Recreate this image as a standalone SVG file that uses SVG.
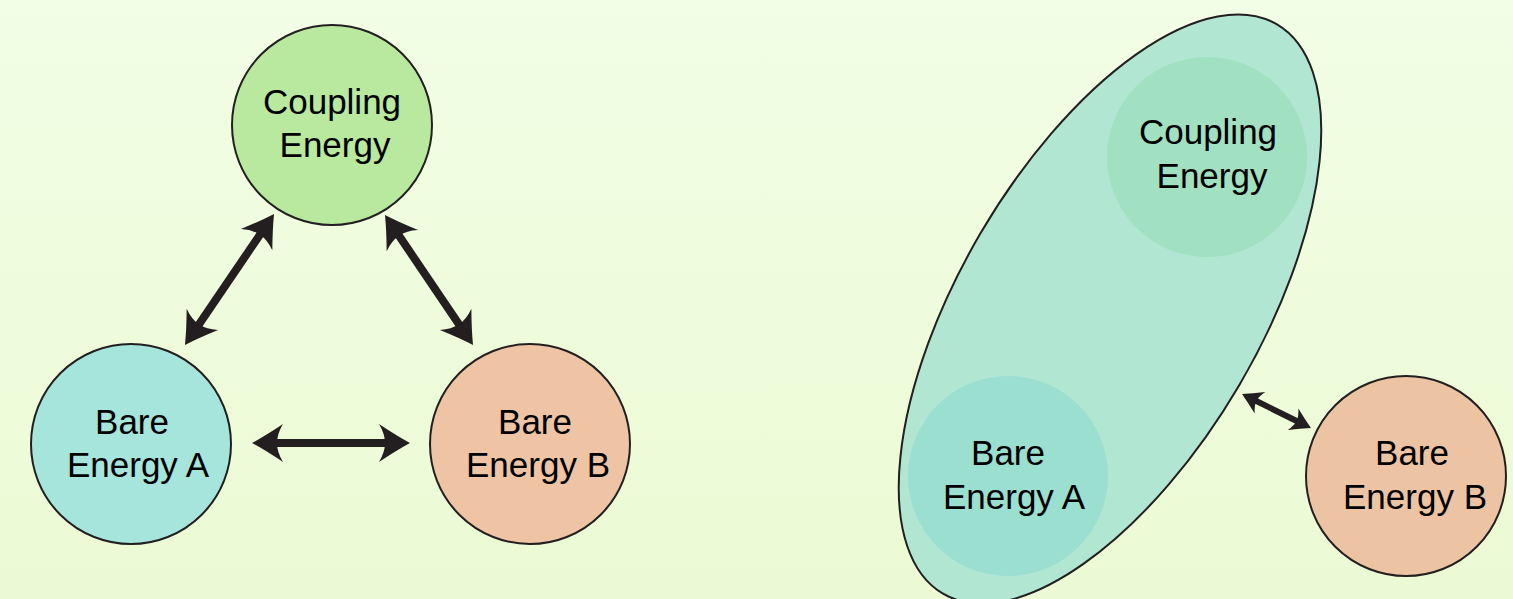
<svg xmlns="http://www.w3.org/2000/svg" width="1513" height="599" viewBox="0 0 1513 599">
  <defs>
    <linearGradient id="bg" x1="0" y1="0" x2="0" y2="1">
      <stop offset="0" stop-color="#f2fee5"/>
      <stop offset="1" stop-color="#ebfad4"/>
    </linearGradient>
    <!-- concave "stealth" arrowheads; tip sits ahead of the shaft end -->
    <marker id="headL" markerUnits="userSpaceOnUse" orient="auto-start-reverse" refX="-20" refY="0" markerWidth="40" markerHeight="40" overflow="visible">
      <path d="M0,0 Q-13,-7 -31,-19 Q-25,-9 -25,0 Q-25,9 -31,19 Q-13,7 0,0 Z" fill="#231f20"/>
    </marker>
    <marker id="headS" markerUnits="userSpaceOnUse" orient="auto-start-reverse" refX="-12" refY="0" markerWidth="30" markerHeight="30" overflow="visible">
      <path d="M0,0 Q-9,-5 -20,-12 Q-16,-5 -16,0 Q-16,5 -20,12 Q-9,5 0,0 Z" fill="#231f20"/>
    </marker>
  </defs>
  <style>
    .node { stroke: #231f20; stroke-width: 2; }
    .label { font-family: "Liberation Sans", Arial, sans-serif; font-size: 35px; fill: #000; text-anchor: middle; }
    .big { stroke: #231f20; stroke-width: 8; fill: none; marker-start: url(#headL); marker-end: url(#headL); }
    .small { stroke: #231f20; stroke-width: 6; fill: none; marker-start: url(#headS); marker-end: url(#headS); }
  </style>

  <rect x="0" y="0" width="1513" height="599" fill="url(#bg)"/>

  <!-- left: three separate energy terms -->
  <g id="coupling-left">
    <circle class="node" cx="332" cy="125" r="100" fill="#b8e99e"/>
    <text class="label" x="332" y="114">Coupling</text>
    <text class="label" x="335" y="157">Energy</text>
  </g>
  <g id="bare-a-left">
    <circle class="node" cx="131" cy="444" r="100" fill="#a5e5dc"/>
    <text class="label" x="132" y="434">Bare</text>
    <text class="label" x="138" y="477">Energy A</text>
  </g>
  <g id="bare-b-left">
    <circle class="node" cx="530" cy="444" r="100" fill="#eec4a5"/>
    <text class="label" x="535" y="434">Bare</text>
    <text class="label" x="538" y="477">Energy B</text>
  </g>

  <!-- right: coupling absorbed together with A -->
  <g id="group-right">
    <ellipse class="node" cx="1110" cy="309" rx="330" ry="150" transform="rotate(-59.6 1110 309)" fill="#b0e6d2"/>
  </g>
  <g id="coupling-right">
    <circle cx="1207" cy="157" r="100" fill="#a1e0c0"/>
    <text class="label" x="1208" y="144">Coupling</text>
    <text class="label" x="1212" y="188">Energy</text>
  </g>
  <g id="bare-a-right">
    <circle cx="1008" cy="476" r="100" fill="#9adfd0"/>
    <text class="label" x="1008" y="465">Bare</text>
    <text class="label" x="1014" y="509">Energy A</text>
  </g>
  <g id="bare-b-right">
    <circle class="node" cx="1406" cy="476" r="100" fill="#edc4a3"/>
    <text class="label" x="1412" y="465">Bare</text>
    <text class="label" x="1415" y="509">Energy B</text>
  </g>

  <g id="connectors">
    <line class="big" x1="262.8" y1="230.5" x2="196.2" y2="328.5"/>
    <line class="big" x1="396.2" y1="231.6" x2="461.8" y2="328.4"/>
    <line class="big" x1="272" y1="443" x2="390" y2="443"/>
    <line class="small" x1="1252.8" y1="399.3" x2="1300.2" y2="422.7"/>
  </g>
</svg>
